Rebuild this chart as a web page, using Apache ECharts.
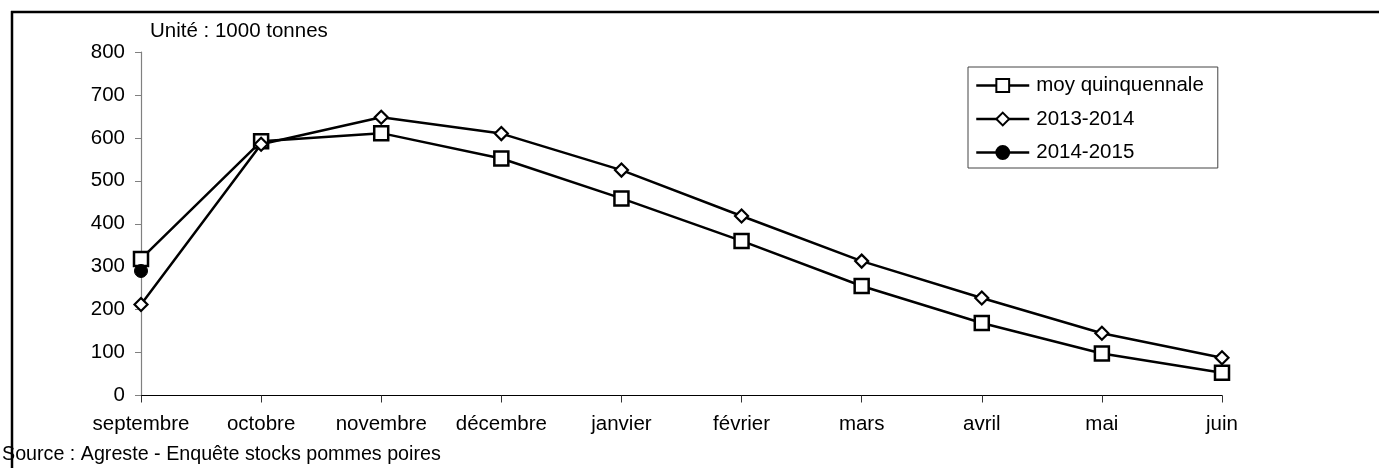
<!DOCTYPE html>
<html>
<head>
<meta charset="utf-8">
<script src="https://cdn.jsdelivr.net/npm/echarts@6/dist/echarts.min.js"></script>
<style>
html,body{margin:0;padding:0;background:#fff;}
#chart{width:1379px;height:468px;}
</style>
</head>
<body>
<div id="chart"></div>
<script>
const categories = ['septembre','octobre','novembre','décembre','janvier','février','mars','avril','mai','juin'];
const moyQuinquennale = [318, 592, 611, 552, 459, 360, 255, 169, 98, 53];
const s2013_2014 = [212, 585, 648, 610, 525, 418, 313, 227, 145, 88];
const s2014_2015 = [290, null, null, null, null, null, null, null, null, null];
const yTicks = [0, 100, 200, 300, 400, 500, 600, 700, 800];

const FONT = '"Liberation Sans", Arial, sans-serif';
const FS = 20.5;
const chart = echarts.init(document.getElementById('chart'), null, {renderer: 'canvas'});
chart.setOption({
  animation: false,
  backgroundColor: '#fff',
  textStyle: {fontFamily: FONT, color: '#000'},
  grid: {left: 141, right: 157, top: 52, bottom: 72.5},
  graphic: [
    {type: 'line', shape: {x1: 11, y1: 12, x2: 1379, y2: 12}, style: {stroke: '#000', lineWidth: 2.5}},
    {type: 'line', shape: {x1: 12, y1: 11, x2: 12, y2: 468}, style: {stroke: '#000', lineWidth: 2.5}},
    {type: 'text', left: 150, top: 21, style: {text: 'Unité : 1000 tonnes', font: FS + 'px ' + FONT, fill: '#000'}},
    {type: 'text', left: 2, top: 445, style: {text: 'Source : Agreste - Enquête stocks pommes poires', font: '19.7px ' + FONT, fill: '#000'}}
  ],
  legend: {
    orient: 'vertical',
    left: 968, top: 67,
    padding: [8, 14, 5, 7],
    itemWidth: 53, itemHeight: 16, itemGap: 12.5,
    borderColor: '#444', borderWidth: 1,
    lineStyle: {width: 2.5},
    textStyle: {fontFamily: FONT, fontSize: FS, color: '#000', padding: [0, 0, 0, 2]},
    data: ['moy quinquennale', '2013-2014', '2014-2015']
  },
  xAxis: {
    type: 'category',
    data: categories,
    boundaryGap: false,
    axisLine: {lineStyle: {color: '#000', width: 1.2}},
    axisTick: {show: true, length: 7, alignWithLabel: true, lineStyle: {color: '#333'}},
    axisLabel: {fontFamily: FONT, fontSize: FS, color: '#000', margin: 18, interval: 0}
  },
  yAxis: {
    type: 'value',
    min: yTicks[0], max: yTicks[yTicks.length - 1], interval: 100,
    splitLine: {show: false},
    axisLine: {show: true, lineStyle: {color: '#808080', width: 1.2}},
    axisTick: {show: true, length: 6, lineStyle: {color: '#808080'}},
    axisLabel: {fontFamily: FONT, fontSize: FS, color: '#000', margin: 16}
  },
  series: [
    {
      name: 'moy quinquennale', type: 'line', data: moyQuinquennale,
      symbol: 'rect', symbolSize: 14, showAllSymbol: true,
      lineStyle: {color: '#000', width: 2.5},
      itemStyle: {color: '#fff', borderColor: '#000', borderWidth: 2.5},
      z: 2
    },
    {
      name: '2013-2014', type: 'line', data: s2013_2014,
      symbol: 'diamond', symbolSize: 13, showAllSymbol: true,
      lineStyle: {color: '#000', width: 2.5},
      itemStyle: {color: '#fff', borderColor: '#000', borderWidth: 2.2},
      z: 3
    },
    {
      name: '2014-2015', type: 'line', data: s2014_2015,
      symbol: 'circle', symbolSize: 13, showAllSymbol: true,
      lineStyle: {color: '#000', width: 2.5},
      itemStyle: {color: '#000', borderColor: '#000', borderWidth: 1},
      z: 4
    }
  ]
});
</script>
</body>
</html>
